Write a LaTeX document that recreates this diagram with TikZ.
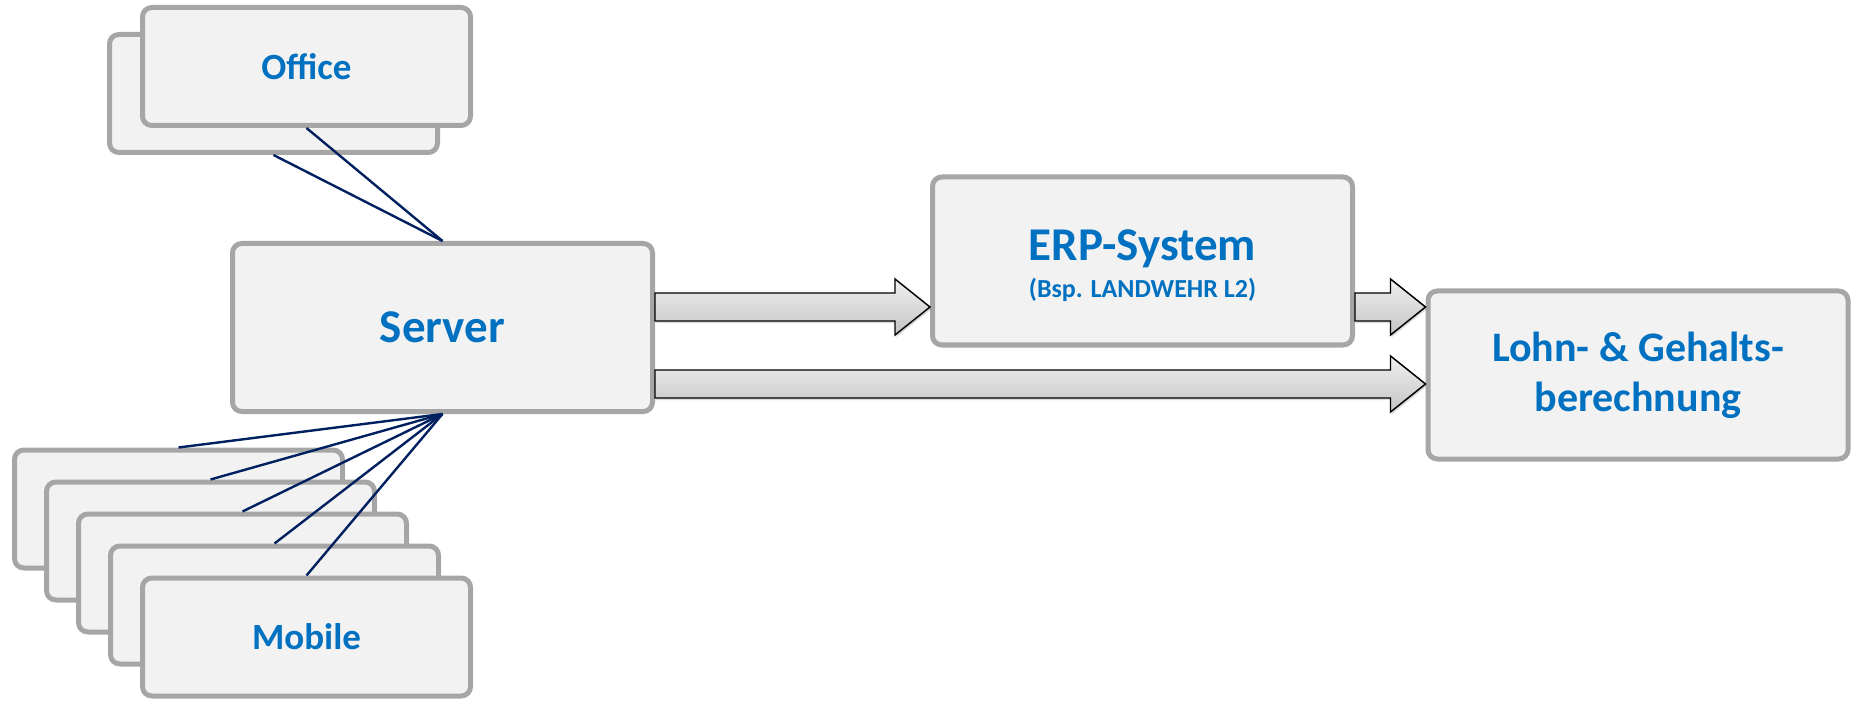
\documentclass[tikz,border=0pt]{standalone}
\usepackage{fontspec}
\setmainfont{Carlito}
\usetikzlibrary{calc}
\definecolor{boxfill}{HTML}{F2F2F2}
\definecolor{boxdraw}{HTML}{A6A6A6}
\definecolor{txtblue}{HTML}{0070C0}
\definecolor{navyline}{HTML}{002060}
\definecolor{arrtop}{HTML}{F0F0F0}
\definecolor{arrbot}{HTML}{C4C4C4}
% block arrow outline: start anchor, end anchor, y (px), dx, dy
\newcommand\arrshape[5]{let \p1=(#1), \p2=(#2), \p3=(0,#3) in
    (\x1+#4,\y3+10.5pt+#5) -- (\x2-26.25pt+#4,\y3+10.5pt+#5) -- (\x2-26.25pt+#4,\y3+21pt+#5) -- (\x2+#4,\y3+#5)
    -- (\x2-26.25pt+#4,\y3-21pt+#5) -- (\x2-26.25pt+#4,\y3-10.5pt+#5) -- (\x1+#4,\y3-10.5pt+#5) -- cycle}
\newcommand\blockarr[3]{%
  \fill[black, opacity=0.14] \arrshape{#1}{#2}{#3}{1pt}{-1.6pt};
  \draw[blockarrow] \arrshape{#1}{#2}{#3}{0pt}{0pt};}
\begin{document}
\begin{tikzpicture}[x=0.75pt,y=-0.75pt,
  card/.style={draw=boxdraw, fill=boxfill, line width=3.75pt, rounded corners=7pt,
    inner sep=0pt, text=txtblue, align=center},
  smallcard/.style={card, minimum width=246pt, minimum height=88.5pt,
    font=\bfseries\fontsize{27.75}{32}\selectfont},
  bigcard/.style={card, minimum width=315pt, minimum height=126pt,
    font=\bfseries\fontsize{35.25}{40}\selectfont},
  cardtext/.style={text=txtblue, inner sep=0pt, anchor=base},
  link/.style={draw=navyline, line width=1.8pt},
  blockarrow/.style={draw=black, line width=1.1pt, top color=arrtop, bottom color=arrbot, line join=miter}]
\useasboundingbox (0,0) rectangle (1860,702);
% Office stack
\node[smallcard] (offb) at (273.5,93.5) {};
\node[smallcard] (office) at (306.5,66.5) {Office};
% Server
\node[bigcard] (server) at (442.5,327.5) {Server};
% Mobile stack
\node[smallcard] (m1) at (178.5,509) {};
\node[smallcard] (m2) at (210.5,541) {};
\node[smallcard] (m3) at (242.5,573) {};
\node[smallcard] (m4) at (274.5,605) {};
\node[smallcard] (mobile) at (306.5,637) {Mobile};
% ERP
\node[bigcard] (erp) at (1142.5,261) {};
\node[cardtext, font=\bfseries\fontsize{35.25}{40}\selectfont] (erptitle) at (1142.5,261) {ERP-System};
\node[cardtext, font=\bfseries\fontsize{19.5}{22}\selectfont] (erpsub) at (1142.5,298) {(Bsp. LANDWEHR L2)};
% Lohn
\node[bigcard, font=\bfseries\fontsize{31.5}{37.5}\selectfont] (lohn) at (1638,375) {Lohn- \& Gehalts-\\berechnung};
% links
\draw[link] (server.north) -- (office.south);
\draw[link] (server.north) -- (offb.south);
\foreach \n in {m1,m2,m3,m4,mobile}
  \draw[link] (server.south) -- (\n.north);
% block arrows
\blockarr{server.east}{erp.west}{307}
\blockarr{erp.east}{lohn.west}{307}
\blockarr{server.east}{lohn.west}{384}
\end{tikzpicture}
\end{document}
